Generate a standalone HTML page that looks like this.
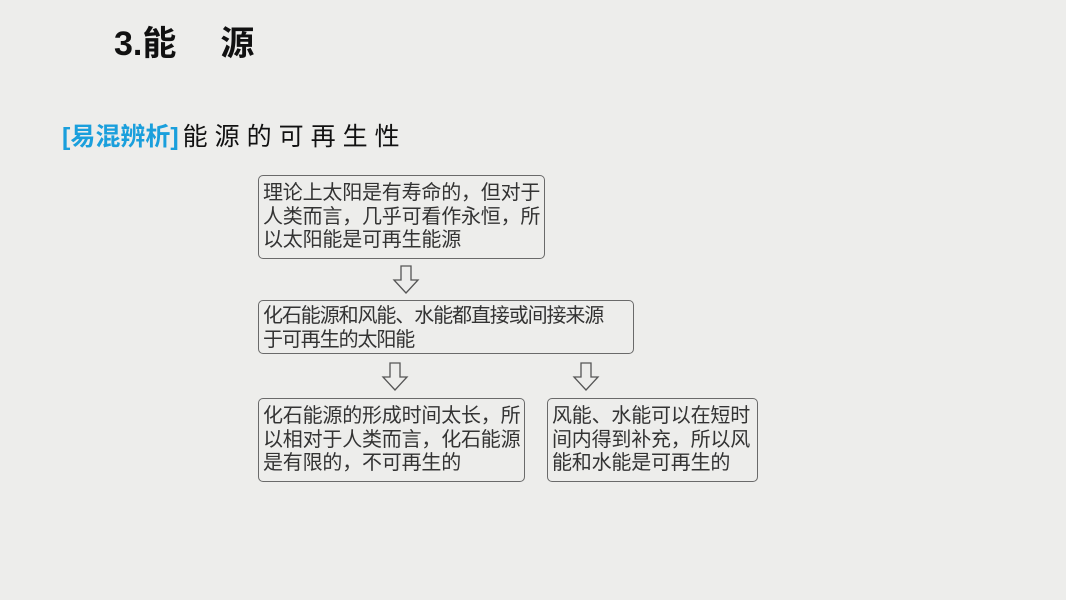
<!DOCTYPE html>
<html><head><meta charset="utf-8"><style>
body{margin:0;width:1066px;height:600px;background:#ededeb;position:relative;overflow:hidden;font-family:"Liberation Sans","Noto Sans CJK SC",sans-serif;}
.t{position:absolute;color:#111;}
.box{position:absolute;border:1.5px solid #6a6a6a;border-radius:5px;box-sizing:border-box;font-size:20px;line-height:23.5px;color:#333;padding:6px 0 0 4px;letter-spacing:-0.2px;white-space:nowrap;}
svg{position:absolute;}
</style></head><body>
<div class="t" style="left:114px;top:16px;font-size:34px;font-weight:bold;">3.能<span style="margin-left:44px;">源</span></div>
<div class="t" style="left:62px;top:117px;font-size:25px;"><span style="color:#1a9fdc;font-weight:bold;">[易混辨析]</span><span style="letter-spacing:7px;margin-left:4px;">能源的可再生性</span></div>
<div class="box" style="left:258px;top:175px;width:287px;height:84px;">理论上太阳是有寿命的，但对于<br>人类而言，几乎可看作永恒，所<br>以太阳能是可再生能源</div>
<div class="box" style="left:258px;top:300px;width:376px;height:54px;letter-spacing:-1.1px;padding-top:4px;">化石能源和风能、水能都直接或间接来源<br>于可再生的太阳能</div>
<div class="box" style="left:258px;top:398px;width:267px;height:84px;">化石能源的形成时间太长，所<br>以相对于人类而言，化石能源<br>是有限的，不可再生的</div>
<div class="box" style="left:547px;top:398px;width:211px;height:84px;">风能、水能可以在短时<br>间内得到补充，所以风<br>能和水能是可再生的</div>
<svg width="1066" height="600" style="left:0;top:0">
<g fill="none" stroke="#555" stroke-width="1.3">
<path d="M401,266 h10 v14 h7 l-12,13 l-12,-13 h7 z"/>
<path d="M390,363 h10 v14 h7 l-12,13 l-12,-13 h7 z"/>
<path d="M581,363 h10 v14 h7 l-12,13 l-12,-13 h7 z"/>
</g></svg>
</body></html>
